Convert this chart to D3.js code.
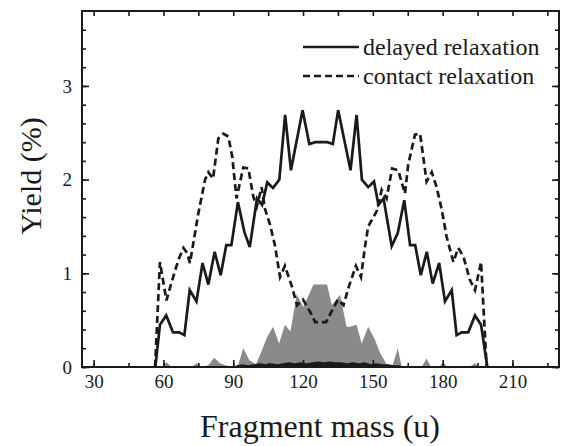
<!DOCTYPE html>
<html>
<head>
<meta charset="utf-8">
<script src="https://cdn.jsdelivr.net/npm/d3@7"></script>
<style>
  html, body { margin: 0; padding: 0; background: #fff; }
  svg { display: block; }
  text { font-family: "Liberation Serif", "Times New Roman", serif; fill: #1a1a1a; }
</style>
</head>
<body>
<svg id="chart" width="566" height="446"></svg>
<script>
// ---- data ----
const massDelayed = [56.5,58.5,61.2,64.1,66.8,69.0,71.3,74.2,76.8,79.3,82.0,84.6,87.0,89.2,92.0,94.8,97.1,100.2,102.4,104.6,107.1,109.8,112.3,114.8,119.8,122.7,125.3,127.9,130.4,132.8,135.1,140.4,143.0,145.3,148.0,150.5,152.4,154.6,158.1,160.7,163.5,166.0,168.2,170.6,173.2,175.7,178.5,181.0,183.9,186.0,188.2,191.0,193.9,196.5,199.2];
const yieldDelayed = [0,0.45,0.55,0.37,0.37,0.34,0.82,0.70,1.11,0.88,1.23,0.98,1.30,1.30,1.76,1.44,1.28,1.80,1.73,1.97,1.91,2.00,2.69,2.10,2.74,2.38,2.40,2.40,2.40,2.38,2.74,2.10,2.69,2.00,1.92,1.98,1.73,1.80,1.29,1.43,1.78,1.30,1.30,0.98,1.23,0.89,1.11,0.70,0.82,0.34,0.37,0.37,0.55,0.45,0];

const massContact = [56.4,58.5,61.3,63.2,65.4,66.7,68.6,70.1,71.4,73.1,75.0,77.9,79.3,81.3,83.6,85.7,87.9,89.6,91.4,94.3,96.5,98.6,100.1,102.2,103.6,105.8,107.9,110.1,112.2,115.2,117.4,120.0,123.0,125.2,127.5,129.9,132.2,135.0,137.4,139.7,142.7,144.9,146.6,148.0,151.6,153.8,155.9,158.3,160.9,163.8,165.2,168.1,170.3,173.1,175.3,177.4,179.6,181.7,184.6,186.7,188.9,191.7,193.9,196.5,198.9];
const yieldContact = [0,1.12,0.71,0.88,1.06,1.16,1.27,1.22,1.11,1.36,1.64,2.00,2.08,2.01,2.44,2.49,2.46,2.24,1.80,2.13,2.12,1.82,1.71,1.92,1.69,1.52,1.30,0.96,1.08,0.86,0.66,0.72,0.59,0.48,0.48,0.48,0.59,0.72,0.66,0.86,1.08,0.96,1.28,1.50,1.66,1.89,1.80,2.12,2.10,1.85,2.16,2.48,2.49,1.98,2.08,1.92,1.68,1.39,1.12,1.27,1.18,0.93,0.82,1.12,0];

const massGray = [56,59,61.3,63.5,72,74.3,76.5,79.3,81.8,84.3,86.5,89.3,92,94.3,97,99.8,102.2,104.6,107.1,109.7,112.2,114.6,117.3,120.1,124.5,130.3,132.4,135.9,138.7,140.2,143.0,145.2,148.0,150.9,153.1,155.9,158.5,160.7,162.4,171,173.1,175,178.5,180.3,182,191.5,193.9,196];
const yieldGray = [0,0,0.05,0,0,0.04,0,0.02,0.10,0.04,0.02,0,0.01,0.20,0.07,0.03,0.17,0.32,0.43,0.25,0.45,0.38,0.78,0.64,0.88,0.88,0.66,0.77,0.43,0.43,0.45,0.25,0.43,0.29,0.15,0.03,0.02,0.20,0,0,0.09,0,0,0.05,0,0,0.04,0];

const massBlack = [90,91.5,94,96.5,99,101.5,104,106.5,109,111.5,114,116.5,119,121.5,124,126.5,129,131.5,134,136.5,139,141.5,144,146.5,149,151.5,154,156.5,159,161.5,163];
const yieldBlack = [0,0.02,0.03,0.02,0.03,0.04,0.03,0.04,0.03,0.04,0.05,0.04,0.05,0.04,0.05,0.06,0.05,0.06,0.05,0.05,0.04,0.05,0.04,0.05,0.03,0.04,0.03,0.03,0.02,0.02,0];

const xTickLabels = [30,60,90,120,150,180,210];
const xMinorTicks = [30,45,60,75,90,105,120,135,150,165,180,195,210,225];
const yTickLabels = [0,1,2,3];
const yMinorTicks = [0,0.2,0.4,0.6,0.8,1,1.2,1.4,1.6,1.8,2,2.2,2.4,2.6,2.8,3,3.2,3.4,3.6];
const legendNames = ["delayed relaxation", "contact relaxation"];

// ---- layout ----
const L = 82, R = 559, T = 11, B = 367;
const x = d3.scaleLinear().domain([25, 230]).range([L, R]);
const y = d3.scaleLinear().domain([0, 3.8]).range([B, T]);
const svg = d3.select("#chart");
const FONT = "'Liberation Serif', 'Times New Roman', serif";

const zip = (a, b) => a.map((m, i) => [m, b[i]]);

const area = d3.area().x(d => x(d[0])).y0(y(0)).y1(d => y(d[1]));
const line = d3.line().x(d => x(d[0])).y(d => y(d[1]));

svg.append("path").datum(zip(massGray, yieldGray))
  .attr("d", area).attr("fill", "#8a8a8a");
svg.append("path").datum(zip(massBlack, yieldBlack))
  .attr("d", area).attr("fill", "#1a1a1a");

svg.append("path").datum(zip(massContact, yieldContact))
  .attr("d", line).attr("fill", "none").attr("stroke", "#1a1a1a")
  .attr("stroke-width", 2.7).attr("stroke-dasharray", "7,4").attr("stroke-linejoin", "miter");
svg.append("path").datum(zip(massDelayed, yieldDelayed))
  .attr("d", line).attr("fill", "none").attr("stroke", "#1a1a1a")
  .attr("stroke-width", 2.7).attr("stroke-linejoin", "miter");

// ---- axes (inward ticks) ----
function styleAxis(g) {
  g.attr("font-family", FONT);
  g.select(".domain").remove();
  g.selectAll(".tick line").attr("stroke", "#1a1a1a").attr("stroke-width", 1.6);
  g.selectAll("text").style("font-family", FONT).attr("font-size", 19).attr("fill", "#1a1a1a");
}
svg.append("g").attr("transform", `translate(0,${B})`)
  .call(d3.axisBottom(x).tickValues(xMinorTicks).tickSize(-4).tickFormat(""))
  .call(styleAxis);
svg.append("g").attr("transform", `translate(0,${B})`)
  .call(d3.axisBottom(x).tickValues(xTickLabels).tickSize(-7).tickPadding(8).tickFormat(d3.format("d")))
  .call(styleAxis);
svg.append("g").attr("transform", `translate(0,${T})`)
  .call(d3.axisTop(x).tickValues(xMinorTicks).tickSize(-5).tickFormat(""))
  .call(styleAxis);
svg.append("g").attr("transform", `translate(${L},0)`)
  .call(d3.axisLeft(y).tickValues(yMinorTicks).tickSize(-4).tickFormat(""))
  .call(styleAxis);
svg.append("g").attr("transform", `translate(${L},0)`)
  .call(d3.axisLeft(y).tickValues(yTickLabels).tickSize(-7).tickPadding(10).tickFormat(d3.format("d")))
  .call(styleAxis);
svg.append("g").attr("transform", `translate(${R},0)`)
  .call(d3.axisRight(y).tickValues(yMinorTicks).tickSize(-4).tickFormat(""))
  .call(styleAxis);
svg.append("g").attr("transform", `translate(${R},0)`)
  .call(d3.axisRight(y).tickValues(yTickLabels).tickSize(-7).tickFormat(""))
  .call(styleAxis);

svg.append("rect").attr("x", L).attr("y", T).attr("width", R - L).attr("height", B - T)
  .attr("fill", "none").attr("stroke", "#1a1a1a").attr("stroke-width", 2);

// ---- titles ----
svg.append("text").attr("x", 320).attr("y", 437).attr("text-anchor", "middle")
  .style("font-family", FONT).attr("font-size", 32).text("Fragment mass (u)");
svg.append("text").attr("transform", `translate(41,176) rotate(-90)`)
  .attr("text-anchor", "middle").style("font-family", FONT).attr("font-size", 30).text("Yield (%)");

// ---- legend ----
const legend = svg.append("g");
[0, 1].forEach(i => {
  const yy = 47 + i * 29;
  legend.append("line").attr("x1", 303).attr("x2", 359).attr("y1", yy).attr("y2", yy)
    .attr("stroke", "#1a1a1a").attr("stroke-width", 2.7)
    .attr("stroke-dasharray", i === 1 ? "7,4" : null);
  legend.append("text").attr("x", 363).attr("y", yy + 8).style("font-family", FONT)
    .attr("font-size", 24).text(legendNames[i]);
});
</script>
</body>
</html>
